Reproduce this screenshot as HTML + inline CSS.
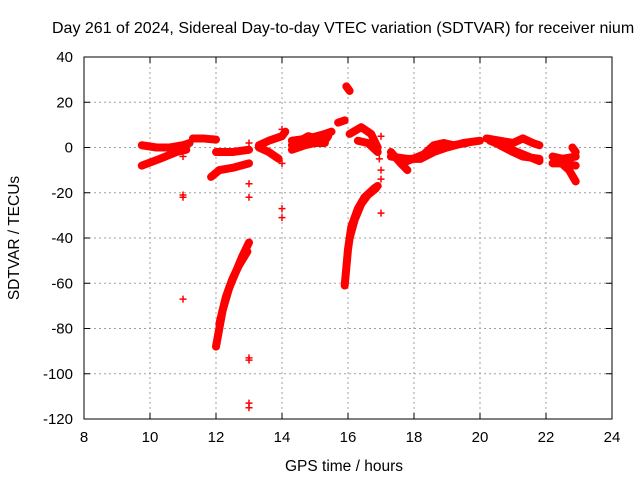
<!DOCTYPE html>
<html><head><meta charset="utf-8"><style>
body{margin:0;background:#fff;width:640px;height:480px;overflow:hidden}
svg{font-family:"Liberation Sans",sans-serif}
</style></head><body>
<svg id="chart" width="640" height="480" xmlns="http://www.w3.org/2000/svg">
<text x="52" y="33" font-size="16">Day 261 of 2024, Sidereal Day-to-day VTEC variation (SDTVAR) for receiver nium</text>
<g id="grid"></g><g id="axes"></g><g id="marks"></g>
<text x="344" y="471" font-size="15.5" text-anchor="middle">GPS time / hours</text>
<text transform="translate(19,238) rotate(-90)" font-size="15.5" text-anchor="middle">SDTVAR / TECUs</text>
</svg>
<script>
const xTicks=[8,10,12,14,16,18,20,22,24];
const yTicks=[40,20,0,-20,-40,-60,-80,-100,-120];
const tracks=[
[[9.75,1],[10.2,0],[10.6,0],[11.0,1],[11.2,2]],
[[9.75,-8],[10.3,-5],[10.8,-2],[11.1,-1]],
[[11.3,4],[11.6,4],[12.0,3.5]],
[[12.0,-2],[12.5,-2],[13.0,-1]],
[[11.85,-13],[12.1,-10],[12.5,-9],[13.0,-7]],
[[12.0,-88],[12.1,-80],[12.2,-72],[12.4,-62],[12.6,-55],[12.8,-48],[13.0,-42]],
[[12.1,-78],[12.3,-66],[12.5,-58],[12.7,-52],[12.95,-46]],
[[13.3,1],[13.6,3],[14.0,5],[14.1,7]],
[[13.3,0],[13.6,-2],[13.9,-5]],
[[14.3,3],[14.8,4],[15.3,6],[15.5,7]],
[[14.3,-1],[14.7,1],[15.0,2],[15.3,2]],
[[14.3,1],[14.8,5],[15.3,3],[15.4,5]],
[[15.7,11],[15.9,12]],
[[15.95,27],[16.05,25]],
[[16.05,6],[16.4,9],[16.7,6],[16.9,0]],
[[16.3,3],[16.6,2],[16.9,-2]],
[[15.9,-61],[16.0,-45],[16.1,-35],[16.3,-27],[16.5,-22],[16.8,-18],[16.9,-17]],
[[16.05,-40],[16.2,-32],[16.4,-25],[16.6,-21],[16.85,-18]],
[[17.3,-2],[17.6,-7],[17.8,-10]],
[[17.3,-4],[17.8,-5],[18.2,-5],[18.6,-2],[19.0,0],[19.5,2],[20.0,3]],
[[17.8,-6],[18.3,-3],[18.6,1],[18.9,2],[19.2,1],[19.6,2]],
[[20.2,4],[20.6,3],[21.0,2],[21.3,4],[21.6,2],[21.8,1]],
[[20.3,3],[20.8,0],[21.3,-3],[21.8,-6]],
[[20.6,1],[21.0,-2],[21.3,-4],[21.8,-5]],
[[22.2,-4],[22.5,-5],[22.9,-4]],
[[22.2,-7],[22.5,-7],[22.9,-8]],
[[22.4,-6],[22.7,-10],[22.9,-15]],
[[22.8,0],[22.9,-2]]
];
const isolated=[[11.0,-4],[11.0,-21],[11.0,-22],[11.0,-67],[13.0,-16],[13.0,-22],[13.0,-93],[13.0,-94],[13.0,-113],[13.0,-115],[14.0,-7],[14.0,-27],[14.0,-31],[14.0,8],[13.0,2],[17.0,5],[17.0,-10],[17.0,-14],[17.0,-29],[16.95,-5]];
const L=84,R=612,T=57,B=419,xmin=8,xmax=24,ymin=-120,ymax=40;
const sx=v=>L+(v-xmin)/(xmax-xmin)*(R-L);
const sy=v=>B-(v-ymin)/(ymax-ymin)*(B-T);
const NS="http://www.w3.org/2000/svg";
function mk(t,a,p){const e=document.createElementNS(NS,t);for(const k in a)e.setAttribute(k,a[k]);p.appendChild(e);return e;}
const grid=document.getElementById('grid'),axes=document.getElementById('axes'),marks=document.getElementById('marks');
xTicks.forEach(v=>{const x=sx(v);
 if(v>xmin&&v<xmax){const g=mk('line',{x1:x,x2:x,y1:T,y2:B,stroke:'#a0a0a0','stroke-dasharray':'2,3'},grid);
 
 }
 mk('line',{x1:x,x2:x,y1:B,y2:B-6,stroke:'#000'},axes);mk('line',{x1:x,x2:x,y1:T,y2:T+6,stroke:'#000'},axes);
 const t=mk('text',{x:x,y:B+23,'font-size':15,'text-anchor':'middle'},axes);t.textContent=v;
 
 });
yTicks.forEach(v=>{const y=sy(v);
 if(v>ymin&&v<ymax){const g=mk('line',{x1:L,x2:R,y1:y,y2:y,stroke:'#a0a0a0','stroke-dasharray':'2,3'},grid);
 
 }
 mk('line',{x1:L,x2:L+6,y1:y,y2:y,stroke:'#000'},axes);mk('line',{x1:R,x2:R-6,y1:y,y2:y,stroke:'#000'},axes);
 const t=mk('text',{x:L-11,y:y+5,'font-size':15,'text-anchor':'end'},axes);t.textContent=v;
 
 });
const f=mk('rect',{x:L,y:T,width:R-L,height:B-T,fill:'none',stroke:'#000'},axes);


function plus(h,v){const x=sx(h),y=sy(v);
 const p=mk('path',{d:`M${x-3.5},${y}h7M${x},${y-3.5}v7`,stroke:'#f00','stroke-width':1.5},marks);
 
 }
tracks.forEach(tr=>{
 const pl=mk('polyline',{points:tr.map(p=>sx(p[0])+','+sy(p[1])).join(' '),fill:'none',stroke:'#f00','stroke-width':8,'stroke-linejoin':'round','stroke-linecap':'round'},marks);
 
 
 tr.forEach(p=>plus(p[0],p[1]));});
isolated.forEach(p=>plus(p[0],p[1]));
</script>
</body></html>
